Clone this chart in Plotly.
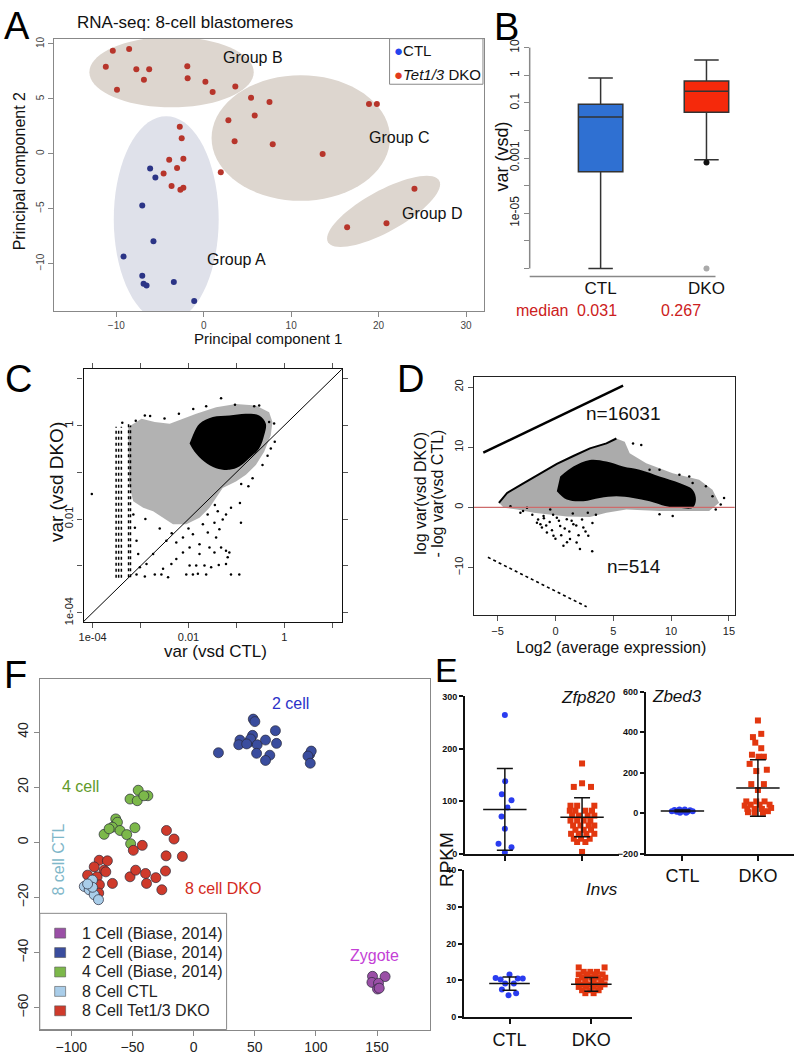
import numpy as np
import plotly.graph_objects as go

W, H = 796, 1059
FONT = "Liberation Sans, Arial, Helvetica, sans-serif"
NARROW = "Liberation Sans Narrow, Arial Narrow, Liberation Sans, sans-serif"

# ---------------- A: PCA of 8-cell blastomeres ----------------
pca_ctl = [(-6.13, -1.35), (-5.53, -2.16), (-7.03, -4.71), (-5.75, -7.96), (-9.17, -9.37),
           (-7.03, -11.11), (-6.88, -11.83), (-6.54, -12.01), (-3.42, -11.68), (-1.09, -13.42)]
pca_dko = [(-10.4, 9.37), (-8.53, 9.55), (-11.2, 7.93), (-7.71, 7.69), (-6.24, 7.69), (-6.84, 6.73),
           (-9.92, 5.83), (-1.88, 7.96), (-1.84, 6.88), (0.19, 6.55), (1.02, 5.62), (3.61, 6.13),
           (5.41, 5.11), (7.52, 4.71), (5.83, 3.48), (2.82, 3.06), (3.53, 1.14), (7.89, 0.87),
           (13.6, -0.03), (18.9, 4.53), (19.8, 4.53), (1.95, -1.68), (24.1, -3.18), (20.9, -6.34),
           (16.4, -6.70), (-2.74, 2.46), (-2.52, 1.41), (-3.95, -0.54), (-2.33, -0.45), (-3.05, -1.29),
           (-4.59, -1.80), (-3.68, -2.94), (-2.33, -3.09), (-2.67, -3.27)]
group_names = ["Group A", "Group B", "Group C", "Group D"]
group_label_pos = [(3.78, -9.62), (5.6, 8.79), (22.35, 1.52), (26.1, -5.4)]
# ellipse centre (PC units), half axes (px) and tilt (deg)
group_centre = [(-4.29, -5.96), (-3.68, 7.43), (11.1, 1.43), (20.57, -5.25)]
group_axes = [(52.8, 104.0, 0), (82.7, 35.5, 0), (89.8, 63.4, 0), (64.0, 20.7, 29)]
group_fill = ["#dfe1ea", "#ddd6cf", "#ddd6cf", "#ddd6cf"]

# ---------------- B: variance boxplot ----------------
box_groups = ["CTL", "DKO"]
box_q1 = [3.2e-4, 0.046]
box_med = [0.031, 0.267]
box_q3 = [0.089, 0.63]
box_lo = [1e-7, 8.7e-4]
box_hi = [0.8, 3.6]
box_colors = ["#2f70d2", "#f5290b"]
box_medians_txt = ["0.031", "0.267"]

# ---------------- C: var(vsd DKO) vs var(vsd CTL), log10 values ----------------
c_core = [(-1.908, -0.209), (-1.77, 0.037), (-1.493, 0.178), (-1.147, 0.213), (-0.801, 0.249),
          (-0.525, 0.213), (-0.386, 0.037), (-0.421, -0.209), (-0.525, -0.491), (-0.732, -0.703),
          (-0.94, -0.879), (-1.147, -0.949), (-1.424, -0.914), (-1.666, -0.773), (-1.873, -0.562),
          (-1.977, -0.386)]
c_mid = [(-3.256, -0.033), (-2.98, 0.143), (-2.703, 0.072), (-2.392, 0.037), (-2.115, 0.143),
         (-1.839, 0.249), (-1.424, 0.39), (-1.009, 0.46), (-0.594, 0.425), (-0.317, 0.284),
         (-0.248, 0.072), (-0.283, -0.209), (-0.421, -0.562), (-0.594, -0.844), (-0.801, -1.055),
         (-1.009, -1.196), (-1.286, -1.337), (-1.424, -1.548), (-1.562, -1.76), (-1.77, -1.971),
         (-2.046, -2.112), (-2.323, -2.112), (-2.53, -1.971), (-2.738, -1.83), (-2.945, -1.76),
         (-3.153, -1.619), (-3.236, -1.267), (-3.25, -0.562)]
c_sparse = [(-4.017, -1.464), (-1.32, 0.58), (-1.03, 0.439), (-0.926, -1.654), (-0.905, -2.077),
            (-1.147, -2.711), (-1.182, -2.817), (-1.217, -2.676), (-1.368, -2.979), (-0.94, -3.183),
            (-1.113, -3.183), (-1.631, -3.183), (-1.804, -3.169), (-1.908, -3.183), (-2.046, -3.183),
            (-1.977, -2.993), (-1.839, -2.993), (-2.426, -3.24), (-2.565, -3.183), (-2.703, -3.183),
            (-2.911, -3.226), (-3.084, -3.183), (-2.53, -3.063), (-2.254, -2.852), (-2.254, -2.5),
            (-1.977, -2.605), (-1.77, -2.746), (-1.562, -2.605), (-1.458, -2.711), (-1.424, -2.394),
            (-1.355, -2.218), (-1.286, -2.007), (-1.217, -1.901), (-1.113, -1.76), (-1.389, -1.83),
            (-1.7, -2.112), (-1.908, -2.324), (-2.115, -2.394), (-2.461, -2.465), (-2.738, -2.746),
            (-2.876, -2.958), (-3.014, -3.028), (-3.049, -2.746), (-3.084, -2.465), (-3.118, -2.183),
            (-2.357, -2.958), (-2.115, -2.711), (-1.77, -2.535), (-1.597, -2.289), (-1.458, -2.077),
            (-1.666, -2.993), (-1.527, -3.028), (-1.217, -2.958), (-1.32, -2.605), (-2.911, 0.213),
            (-3.381, 0.058), (-1.631, 0.411), (-0.525, 0.425), (-0.629, 0.411), (-0.317, 0.072),
            (-0.214, 0.043), (-0.283, -0.491), (-0.456, -0.844), (-0.663, -1.126),
            (-3.1, 0.1), (-2.8, 0.2), (-2.5, 0.15), (-2.2, 0.25), (-1.9, 0.35), (-3.15, -1.9),
            (-2.9, -2.0), (-2.6, -2.2), (-2.35, -2.3), (-2.0, -2.2), (-1.6, -1.9), (-1.45, -1.7),
            (-0.75, -1.3), (-0.9, -1.25), (-0.35, -0.65), (-0.2, -0.35)]
# columns of genes with the lowest CTL variance: log10 x, y from, y to
c_columns = [(-3.51, -3.254, -0.03), (-3.457, -3.254, -0.05), (-3.40, -3.254, -0.03),
             (-3.25, -3.24, 0.04), (-3.21, -3.24, 0.0)]

# ---------------- D: log ratio vs average expression ----------------
d_upper = [(-6.24, 9.10), (5.85, 20.23)]
d_lower = [(-5.84, -8.28), (2.70, -16.50)]
d_ridge = [(-4.89, 0.77), (-4.18, 2.41), (-2.74, 4.06), (-1.31, 5.70), (0.12, 7.24),
           (1.55, 8.55), (2.98, 9.81), (4.41, 10.64), (5.27, 11.46)]
d_core = [(0.41, 5.15), (1.55, 6.8), (2.98, 7.89), (4.41, 7.62), (5.85, 6.8), (7.28, 6.25),
          (9.0, 5.15), (10.72, 4.06), (11.86, 2.96), (12.15, 1.31), (11.86, -0.06), (10.72, -0.06),
          (9.57, 0.22), (8.14, 1.04), (6.71, 1.59), (5.27, 1.86), (3.84, 1.59), (2.41, 1.04),
          (0.98, 1.31), (0.12, 2.69)]
d_mid = [(-4.89, 0.77), (-4.18, 2.41), (-2.74, 4.06), (-1.31, 5.70), (0.12, 7.24), (1.55, 8.55),
         (2.98, 9.81), (4.41, 10.64), (5.27, 11.46), (5.99, 10.91), (6.42, 9.0), (7.85, 7.35),
         (10.14, 5.7), (12.43, 4.6), (13.58, 2.96), (14.15, 0.77), (13.29, -0.6), (11.29, -0.6),
         (9.0, -0.6), (6.13, -0.33), (4.41, -0.88), (2.98, -1.6), (1.0, -1.5), (-1.89, -0.88),
         (-3.32, -0.33), (-4.46, -0.06)]
d_sparse = [(2.12, -6.91), (3.18, -7.29), (2.84, -4.72), (-0.17, -4.72), (-0.74, -4.17),
            (-1.17, -3.35), (0.41, -3.07), (1.26, -5.26), (1.55, -2.8), (2.41, -3.35),
            (7.42, 10.36), (6.71, 10.64), (8.14, 6.25), (9.0, 6.25), (10.72, 5.43), (11.57, 5.15),
            (11.86, 4.06), (13.01, 3.51), (13.58, 1.86), (14.58, 1.59), (14.29, 0.49), (13.86, -0.33),
            (10.14, -1.43), (9.0, -1.15), (-2.46, -0.06), (-3.89, 0.22), (-3.03, -0.88), (-0.45, -0.33),
            (0.12, -1.7), (0.98, -1.98), (-1.6, -2.53), (-1.03, -1.43), (0.69, -6.36), (1.83, -5.81),
            (-2.0, -1.2), (-1.5, -2.0), (-0.8, -3.0), (-0.3, -3.8), (0.3, -2.2), (0.8, -3.5),
            (1.2, -4.0), (1.8, -3.0), (2.3, -2.0), (2.6, -4.0), (0.0, -5.2), (1.0, -5.8),
            (-1.0, -1.8), (-2.8, -0.6), (-0.2, -1.2), (1.5, -1.0), (2.8, -0.9), (3.5, -1.2),
            (3.2, -2.6), (0.5, -4.6), (-0.5, -2.4), (2.0, -4.6), (1.4, -2.2), (-1.3, -2.8)]

# ---------------- F: PCA with Biase 2014 ----------------
f_names = ["1 Cell (Biase, 2014)", "2 Cell (Biase, 2014)", "4 Cell (Biase, 2014)",
           "8 Cell CTL", "8 Cell Tet1/3 DKO"]
f_colors = ["#9a4fa6", "#3a4d9e", "#7cb84a", "#a9cde9", "#cf3a2b"]
f_zygote = [(146.3, -48.6), (156.6, -48.7), (145.8, -50.8), (151.2, -51.1), (150.4, -53.2), (151.8, -52.9)]
f_2cell = [(20.3, 32.5), (37.9, 37.1), (36.9, 35.4), (45.5, 36.4), (48.2, 38.8), (48.8, 44.7),
           (50.1, 43.8), (46.6, 37.5), (52.0, 35.4), (51.5, 32.3), (58.8, 37.1), (66.9, 40.5),
           (67.8, 35.9), (62.3, 31.6), (58.8, 29.7), (43.4, 35.7), (94.9, 31.9), (96.2, 33.1),
           (93.5, 31.3), (95.4, 28.7)]
f_4cell = [(-52.0, 15.7), (-45.3, 18.9), (-46.1, 15.1), (-37.4, 16.9), (-40.7, 16.9), (-63.7, 8.5),
           (-62.3, 7.3), (-66.4, 5.5), (-73.2, 2.9), (-69.1, 4.9), (-60.2, 4.3), (-54.7, 2.8),
           (-48.0, 5.3), (-51.5, -0.5)]
f_8ctl = [(-89.4, -16.0), (-82.7, -13.7), (-85.4, -17.2), (-81.3, -19.0), (-77.8, -20.8),
          (-82.7, -16.3), (-86.7, -15.1)]
f_8dko = [(-22.2, 4.3), (-16.0, 1.2), (-42.0, -1.1), (-49.3, -2.9), (-22.5, -4.9), (-9.2, -5.1),
          (-23.0, -10.4), (-52.0, -12.5), (-47.4, -10.1), (-39.3, -11.3), (-38.5, -14.9), (-30.9, -12.8),
          (-26.0, -17.2), (-66.4, -14.9), (-77.2, -6.5), (-70.5, -6.7), (-81.3, -8.9), (-73.2, -10.1),
          (-86.7, -11.9), (-78.9, -12.5), (-77.0, -15.4), (-77.6, -18.4), (-71.8, -10.7)]

# ---------------- E: RPKM dot plots (value, horizontal spread) ----------------
zfp_ctl = [(264.6, 0), (138, 0.004), (113.4, -0.039), (102, 0.086), (88, 0.034), (70.6, -0.043),
           (47.3, 0), (18.9, -0.082), (12, 0.086), (1.9, 0)]
zfp_dko = [(172, 0), (127.3, -0.107), (134.2, 0), (127.3, 0.116),
           (91.4, -0.15), (91.4, -0.064), (91.4, 0.159),
           (81.9, -0.159), (81.9, -0.086), (81.9, 0.043), (81.9, 0.129),
           (72.5, -0.129), (72.5, -0.043), (72.5, 0.073), (72.5, 0.159),
           (63.0, -0.15), (63.0, -0.064), (63.0, 0.021), (63.0, 0.107),
           (53.6, -0.116), (53.6, -0.021), (53.6, 0.086), (53.6, 0.159),
           (45.4, -0.086), (45.4, 0.021), (45.4, 0.116),
           (37.8, -0.142), (37.8, -0.043), (37.8, 0.056), (37.8, 0.159),
           (28.4, -0.107), (28.4, -0.013), (28.4, 0.099),
           (22.1, -0.064), (22.1, 0.043), (3.2, 0)]
zfp_mean, zfp_sd = [84.4, 69.3], [77.9, 37.2]

zbed_ctl = [(9.7, -0.14), (16.1, -0.105), (6.5, -0.075), (17.7, -0.039), (9.7, -0.004), (17.7, 0.031),
            (6.5, 0.066), (14.5, 0.101), (9.7, 0.136), (1.6, -0.031), (1.6, 0.048)]
zbed_dko = [(458, 0), (375.8, -0.066), (391.9, 0.044), (348.4, -0.035), (321, 0.044), (288.7, -0.079),
            (279, 0.009), (279, 0.079), (243.5, -0.11), (208, -0.022), (214.5, 0.118), (143.5, -0.088),
            (143.5, 0.079), (114.5, 0), (58, -0.154), (58, -0.022), (58, 0.088), (37.1, -0.175),
            (41.9, -0.096), (41.9, 0.022), (41.9, 0.154), (21, -0.14), (21, -0.044), (21, 0.053),
            (25.8, 0.175), (4.8, -0.132), (1.6, -0.044), (1.6, 0.066), (9.7, 0.132)]
zbed_mean, zbed_sd = [11.0, 124.0], [4.0, 139.5]

invs_ctl = [(10.6, -0.17), (10.2, -0.109), (11.6, 0), (10.5, 0.101), (10.5, 0.162), (9.1, -0.053),
            (9.1, 0.053), (7.5, -0.093), (5.9, -0.012), (6.5, 0.081)]
invs_dko = [(13.5, -0.154), (13.5, 0.162),
            (12.3, -0.093), (12.3, -0.012), (12.3, 0.069),
            (11.6, -0.154), (11.6, -0.053), (11.6, 0.049), (11.6, 0.138),
            (10.7, -0.113), (10.7, 0), (10.7, 0.089), (10.7, 0.17),
            (9.8, -0.162), (9.8, -0.073), (9.8, 0.028), (9.8, 0.122),
            (8.9, -0.122), (8.9, -0.032), (8.9, 0.069), (8.9, 0.162),
            (8.2, -0.154), (8.2, -0.065), (8.2, 0.028), (8.2, 0.109),
            (7.3, -0.113), (7.3, -0.012), (7.3, 0.089),
            (6.5, -0.073), (6.5, 0.028)]
invs_mean, invs_sd = [9.1, 8.9], [1.8, 1.85]


def xs(pts, i=0):
    return [p[i] for p in pts]


def dom_x(a, b):
    return [a / W, b / W]


def dom_y(top, bottom):
    return [1 - bottom / H, 1 - top / H]


fig = go.Figure()
annotations = []
shapes = []


def note(x, y, text, size, color="#111", angle=0, xanchor="center", family=FONT):
    annotations.append(dict(x=x / W, y=1 - y / H, xref="paper", yref="paper", text=text,
                            showarrow=False, textangle=angle, xanchor=xanchor, yanchor="middle",
                            font=dict(size=size, color=color, family=family)))


def paper_rect(x0, y0, x1, y1, fill="white", line="#888", width=1):
    shapes.append(dict(type="rect", xref="paper", yref="paper", x0=x0 / W, x1=x1 / W,
                       y0=1 - y1 / H, y1=1 - y0 / H, fillcolor=fill, line=dict(color=line, width=width)))


def paper_line(x0, y0, x1, y1, color="#888", width=1.5):
    shapes.append(dict(type="line", xref="paper", yref="paper", x0=x0 / W, x1=x1 / W,
                       y0=1 - y0 / H, y1=1 - y1 / H, line=dict(color=color, width=width)))


# ---- A ----
for i, name in enumerate(group_names):
    cx, cy = group_centre[i]
    a, b, ang = group_axes[i]
    t = np.linspace(0, 2 * np.pi, 73)
    th = np.radians(ang)
    ex = cx + (a * np.cos(t) * np.cos(th) - b * np.sin(t) * np.sin(th)) / 8.8
    ey = cy + (a * np.cos(t) * np.sin(th) + b * np.sin(t) * np.cos(th)) / 11.08
    path = "M " + " L ".join(f"{u:.3f},{v:.3f}" for u, v in zip(ex, ey)) + " Z"
    shapes.append(dict(type="path", path=path, xref="x", yref="y", fillcolor=group_fill[i],
                       line=dict(width=0), layer="below"))
    annotations.append(dict(x=group_label_pos[i][0], y=group_label_pos[i][1], xref="x", yref="y",
                            text=name, showarrow=False, font=dict(size=16, color="#111", family=FONT)))

fig.add_trace(go.Scatter(x=xs(pca_dko), y=xs(pca_dko, 1), mode="markers", xaxis="x", yaxis="y",
                         marker=dict(size=6, color="#b7352b"), showlegend=False))
fig.add_trace(go.Scatter(x=xs(pca_ctl), y=xs(pca_ctl, 1), mode="markers", xaxis="x", yaxis="y",
                         marker=dict(size=6, color="#2b3486"), showlegend=False))
paper_rect(387, 34, 481, 80)
note(389, 46, '<span style="color:#2344ee">●</span>CTL', 15, xanchor="left")
note(389, 70, '<span style="color:#e23b1c">●</span><i>Tet1/3</i> DKO', 15, xanchor="left")
note(70, 18, "RNA-seq: 8-cell blastomeres", 17, xanchor="left")
note(265, 337, "Principal component 1", 15)
note(15, 168, "Principal component 2", 16, angle=-90)

# ---- B ----
for i, g in enumerate(box_groups):
    fig.add_trace(go.Box(x=[g], q1=[box_q1[i]], median=[box_med[i]], q3=[box_q3[i]],
                         lowerfence=[box_lo[i]], upperfence=[box_hi[i]], xaxis="x2", yaxis="y2",
                         fillcolor=box_colors[i], line=dict(color="#333", width=1.5),
                         width=0.42, whiskerwidth=0.55, showlegend=False, boxpoints=False))
fig.add_trace(go.Scatter(x=["DKO"], y=[7e-4], mode="markers", xaxis="x2", yaxis="y2",
                         marker=dict(size=6, color="#111"), showlegend=False))
fig.add_trace(go.Scatter(x=["DKO"], y=[1e-7], mode="markers", xaxis="x2", yaxis="y2",
                         marker=dict(size=6, color="#aaa"), showlegend=False))
paper_line(528, 43, 528, 266)
paper_line(528, 274, 715, 274)
note(500, 153, "var (vsd)", 18, angle=-90)
note(540, 308, "median", 16, color="#cc2020")
note(596, 308, box_medians_txt[0], 16, color="#cc2020")
note(680, 308, box_medians_txt[1], 16, color="#cc2020")

# ---- C ----
fig.add_trace(go.Scatter(x=[10 ** p[0] for p in c_mid], y=[10 ** p[1] for p in c_mid], mode="lines",
                         fill="toself", fillcolor="rgba(0,0,0,0.3)", line=dict(width=0),
                         xaxis="x3", yaxis="y3", showlegend=False))
fig.add_trace(go.Scatter(x=[10 ** p[0] for p in c_core], y=[10 ** p[1] for p in c_core], mode="lines",
                         fill="toself", fillcolor="black", line=dict(width=0, shape="spline"),
                         xaxis="x3", yaxis="y3", showlegend=False))
for lx, y0, y1 in c_columns:
    fig.add_trace(go.Scatter(x=[10 ** lx, 10 ** lx], y=[10 ** y0, 10 ** y1], mode="lines",
                             line=dict(color="black", width=1.5, dash="dot"),
                             xaxis="x3", yaxis="y3", showlegend=False))
fig.add_trace(go.Scatter(x=[10 ** p[0] for p in c_sparse], y=[10 ** p[1] for p in c_sparse],
                         mode="markers", marker=dict(size=2.5, color="black"),
                         xaxis="x3", yaxis="y3", showlegend=False))
fig.add_trace(go.Scatter(x=[10 ** -4.3, 10 ** 1.3], y=[10 ** -4.3, 10 ** 1.3], mode="lines",
                         line=dict(color="black", width=1), xaxis="x3", yaxis="y3", showlegend=False))
note(52, 482, "var (vsd DKO)", 19, angle=-90)
note(212, 653, "var (vsd CTL)", 17)

# ---- D ----
fig.add_trace(go.Scatter(x=xs(d_mid), y=xs(d_mid, 1), mode="lines", fill="toself",
                         fillcolor="rgba(0,0,0,0.33)", line=dict(width=0),
                         xaxis="x4", yaxis="y4", showlegend=False))
fig.add_trace(go.Scatter(x=xs(d_core), y=xs(d_core, 1), mode="lines", fill="toself",
                         fillcolor="black", line=dict(width=0, shape="spline"),
                         xaxis="x4", yaxis="y4", showlegend=False))
fig.add_trace(go.Scatter(x=xs(d_ridge), y=xs(d_ridge, 1), mode="lines", line=dict(color="black", width=2),
                         xaxis="x4", yaxis="y4", showlegend=False))
fig.add_trace(go.Scatter(x=xs(d_upper), y=xs(d_upper, 1), mode="lines", line=dict(color="black", width=2.5),
                         xaxis="x4", yaxis="y4", showlegend=False))
fig.add_trace(go.Scatter(x=xs(d_lower), y=xs(d_lower, 1), mode="lines",
                         line=dict(color="black", width=1.6, dash="dot"),
                         xaxis="x4", yaxis="y4", showlegend=False))
fig.add_trace(go.Scatter(x=xs(d_sparse), y=xs(d_sparse, 1), mode="markers",
                         marker=dict(size=2.5, color="black"), xaxis="x4", yaxis="y4", showlegend=False))
shapes.append(dict(type="line", xref="x4 domain", yref="y4", x0=0, x1=1, y0=0, y1=0,
                   line=dict(color="#cd6b6b", width=1.2)))
note(622, 412, "n=16031", 19)
note(633, 567, "n=514", 19)
note(418, 493, "log var(vsd DKO)", 16, angle=-90)
note(435, 493, "- log var(vsd CTL)", 16, angle=-90)
note(610, 649, "Log2 (average expression)", 16)

# ---- F ----
f_sets = [f_zygote, f_2cell, f_4cell, f_8dko, f_8ctl]
f_set_colors = [f_colors[0], f_colors[1], f_colors[2], f_colors[4], f_colors[3]]
for pts, col in zip(f_sets, f_set_colors):
    fig.add_trace(go.Scatter(x=xs(pts), y=xs(pts, 1), mode="markers", xaxis="x5", yaxis="y5",
                             marker=dict(size=10, color=col, line=dict(width=0.7, color="#2a2a3a")),
                             showlegend=False))
paper_rect(35, 917, 223, 1034.3)
for i, name in enumerate(f_names):
    yc = 937 + i * 19.6
    paper_rect(50, yc - 5, 61, yc + 5, fill=f_colors[i], line="#555", width=0.6)
    note(75, yc, name, 16, color="#222", xanchor="left")
note(287, 705, "2 cell", 16, color="#2b32c8")
note(76, 789, "4 cell", 16, color="#5f9a2a")
note(54, 863, "8 cell CTL", 16, color="#7fb7c9", angle=-90)
note(219, 892, "8 cell DKO", 16, color="#d42a22")
note(372, 960, "Zygote", 16, color="#c43fd6")

# ---- E ----
e_sets = [("x6", "y6", zfp_ctl, zfp_dko, zfp_mean, zfp_sd, 31, 8),
          ("x7", "y7", zbed_ctl, zbed_dko, zbed_mean, zbed_sd, 31, 8),
          ("x8", "y8", invs_ctl, invs_dko, invs_mean, invs_sd, 29, 7)]
for xa, ya, ctl, dko, mean, sd, mw, cw in e_sets:
    fig.add_trace(go.Scatter(x=[p[1] for p in ctl], y=[p[0] for p in ctl], mode="markers",
                             xaxis=xa, yaxis=ya, cliponaxis=False, showlegend=False,
                             marker=dict(size=6, color="#2a3cf0")))
    fig.add_trace(go.Scatter(x=[1 + p[1] for p in dko], y=[p[0] for p in dko], mode="markers",
                             xaxis=xa, yaxis=ya, cliponaxis=False, showlegend=False,
                             marker=dict(size=6, symbol="square", color="#e2370f")))
    fig.add_trace(go.Scatter(x=[0, 1], y=mean, mode="markers", xaxis=xa, yaxis=ya, showlegend=False,
                             cliponaxis=False,
                             marker=dict(symbol="line-ew", size=mw, line=dict(width=1.5, color="#111")),
                             error_y=dict(type="data", array=sd, width=cw, thickness=1.5, color="#111")))
note(587, 699, "<i>Zfp820</i>", 17, color="#111")
note(676, 698, "<i>Zbed3</i>", 17, color="#111")
note(601, 893, "<i>Invs</i>", 17, color="#111")
note(445, 863, "RPKM", 19, angle=-90)

# panel letters
for letter, x, y, s in [("A", 12, 21, 38), ("B", 505, 22, 38), ("C", 14, 378, 38), ("D", 408, 378, 38),
                        ("F", 11, 676, 38), ("E", 444, 671, 34)]:
    note(x, y, letter, s, color="#000")

# ---------------- axes ----------------
def rbox(dx, dy, rx, ry, tv_x, tv_y, line="#888", size=10, color="#444", mirror=True):
    xa = dict(domain=dom_x(*dx), range=rx, showline=True, linecolor=line, linewidth=1.3, mirror=mirror,
              ticks="outside", ticklen=5, tickcolor=line, tickvals=tv_x, showgrid=False, zeroline=False,
              tickfont=dict(size=size, color=color, family=FONT))
    ya = dict(domain=dom_y(*dy), range=ry, showline=True, linecolor=line, linewidth=1.3, mirror=mirror,
              ticks="outside", ticklen=5, tickcolor=line, tickvals=tv_y, showgrid=False, zeroline=False,
              tickangle=-90, tickfont=dict(size=size, color=color, family=FONT))
    return xa, ya


xa1, ya1 = rbox((49, 482), (34, 309), [-17.16, 32.05], [-14.33, 10.48],
                [-10, 0, 10, 20, 30], [-10, -5, 0, 5, 10])
xa1.update(anchor="y")
ya1.update(anchor="x")

xa3, ya3 = rbox((79, 339), (367.7, 623), [-4.19, 1.2], [-4.2, 1.2],
                [1e-4, 1e-3, 1e-2, 1e-1, 1, 10], [1e-4, 1e-3, 1e-2, 1e-1, 1, 10],
                line="#111", size=11, color="#222", mirror="allticks")
xa3.update(type="log", anchor="y3", ticktext=["1e-04", "", "0.01", "", "1", ""], tickcolor="#555")
ya3.update(type="log", anchor="x3", ticktext=["1e-04", "", "0.01", "", "1", ""], tickcolor="#555")

xa4, ya4 = rbox((472, 734.3), (376, 616), [-7.04, 15.5], [-17.9, 21.6],
                [-5, 0, 5, 10, 15], [-10, 0, 10, 20], line="#222", size=11, color="#222")
xa4.update(anchor="y4", tickcolor="#555")
ya4.update(anchor="x4", tickcolor="#555")

xa5, ya5 = rbox((35, 427.3), (680, 1034.3), [-125.8, 193], [-67.9, 59.4],
                [-100, -50, 0, 50, 100, 150], [-60, -40, -20, 0, 20, 40], size=14, color="#222")
xa5.update(anchor="y5")
ya5.update(anchor="x5")

xa2 = dict(domain=dom_x(528, 740), range=[-0.67, 1.32], type="category", anchor="y2",
           showline=False, showgrid=False, zeroline=False, ticks="",
           tickfont=dict(size=17, color="#111", family=FONT))
ya2 = dict(domain=dom_y(36, 274), range=[-7.29, 1.26], type="log", anchor="x2",
           showline=False, showgrid=False, zeroline=False, ticks="outside", ticklen=5, tickcolor="#888",
           tickvals=[10, 1, 0.1, 0.01, 1e-3, 1e-4, 1e-5, 1e-6, 1e-7],
           ticktext=["10", "1", "0.1", "", "0.001", "", "1e-05", "", ""], tickangle=-90,
           tickfont=dict(size=12, color="#222", family=FONT))


def e_axes(dx, dy, rx, ry, tv_y, labels):
    tickf = dict(size=9, color="#111", family=NARROW, weight="bold")
    xa = dict(domain=dom_x(*dx), range=rx, showline=True, linecolor="#111", linewidth=2,
              ticks="outside", ticklen=5, tickwidth=1.5, tickcolor="#111", tickvals=[0, 1],
              ticktext=["CTL", "DKO"], showticklabels=labels, showgrid=False, zeroline=False,
              tickfont=dict(size=18, color="#111", family=FONT))
    ya = dict(domain=dom_y(*dy), range=ry, showline=True, linecolor="#111", linewidth=2,
              ticks="outside", ticklen=4, tickwidth=1.5, tickcolor="#111", tickvals=tv_y,
              showgrid=False, zeroline=False, tickfont=tickf)
    return xa, ya


xa6, ya6 = e_axes((463, 618), (698, 856.7), [-0.515, 1.48], [0, 300], [0, 100, 200, 300], False)
xa7, ya7 = e_axes((645, 794), (693.3, 856.7), [-0.483, 1.478], [-200, 600], [-200, 0, 200, 400, 600], True)
xa8, ya8 = e_axes((462, 630.7), (873.3, 1021.7), [-0.555, 1.494], [0, 40], [0, 10, 20, 30, 40], True)
for n, (xa, ya) in zip([6, 7, 8], [(xa6, ya6), (xa7, ya7), (xa8, ya8)]):
    xa.update(anchor=f"y{n}")
    ya.update(anchor=f"x{n}")

fig.update_layout(
    width=W, height=H, autosize=False,
    margin=dict(l=0, r=0, t=0, b=0),
    paper_bgcolor="white", plot_bgcolor="rgba(0,0,0,0)",
    font=dict(family=FONT),
    showlegend=False,
    xaxis=xa1, yaxis=ya1, xaxis2=xa2, yaxis2=ya2, xaxis3=xa3, yaxis3=ya3,
    xaxis4=xa4, yaxis4=ya4, xaxis5=xa5, yaxis5=ya5, xaxis6=xa6, yaxis6=ya6,
    xaxis7=xa7, yaxis7=ya7, xaxis8=xa8, yaxis8=ya8,
    shapes=shapes, annotations=annotations,
)

# page body has a default 8px margin; remove it so the figure sits at the window origin
fig.write_html("out.html", config={"displayModeBar": False},
               post_script="document.body.style.margin='0';document.body.style.overflow='hidden';")
